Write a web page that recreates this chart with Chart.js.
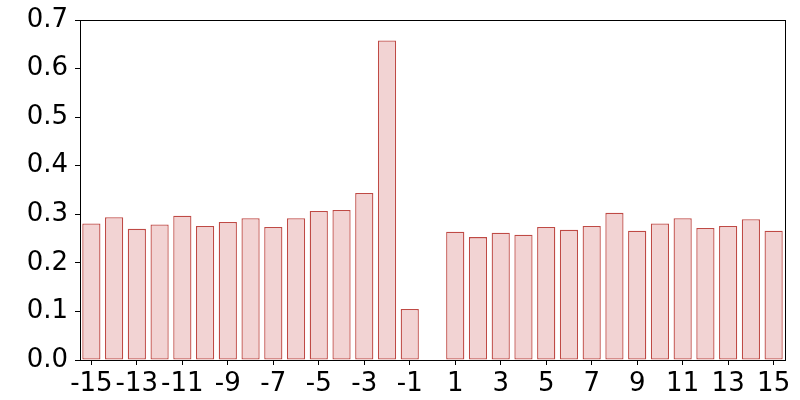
<!DOCTYPE html>
<html>
<head>
<meta charset="utf-8">
<script src="https://cdn.jsdelivr.net/npm/chart.js@4/dist/chart.umd.min.js"></script>
<style>
  html, body { margin: 0; padding: 0; background: #fff; }
  #wrap { width: 800px; height: 400px; }
</style>
</head>
<body>
<div id="wrap"><canvas id="myChart"></canvas></div>
<script>
var lags = ['-15','-14','-13','-12','-11','-10','-9','-8','-7','-6','-5','-4','-3','-2','-1','0',
            '1','2','3','4','5','6','7','8','9','10','11','12','13','14','15'];
var values = [0.281, 0.294, 0.270, 0.279, 0.297, 0.276, 0.284, 0.292, 0.274, 0.292, 0.307, 0.309, 0.344, 0.658, 0.105, 0,
              0.264, 0.253, 0.262, 0.258, 0.274, 0.268, 0.276, 0.303, 0.266, 0.281, 0.292, 0.272, 0.276, 0.290, 0.266];
var yTicks = ['0.0','0.1','0.2','0.3','0.4','0.5','0.6','0.7'];

var font = { family: 'DejaVu Sans', size: 26, lineHeight: 1 };

// top and right spines like matplotlib
var frame = {
    id: 'frame',
    afterDraw: function(chart) {
        var a = chart.chartArea, c = chart.ctx;
        c.save();
        c.strokeStyle = '#000';
        c.lineWidth = 1;
        c.strokeRect(Math.round(a.left) + 0.5, Math.round(a.top) + 0.5,
                     Math.round(a.right - a.left), Math.round(a.bottom - a.top));
        c.restore();
    }
};

var ctx = document.getElementById('myChart').getContext('2d');
var myChart = new Chart(ctx, {
    type: 'bar',
    data: {
        labels: lags,
        datasets: [{
            data: values,
            backgroundColor: '#f2d3d3',
            borderColor: '#bf4a45',
            borderWidth: 1.3,
            borderSkipped: false,
            categoryPercentage: 1,
            barPercentage: 0.8
        }]
    },
    plugins: [frame],
    options: {
        responsive: true,
        maintainAspectRatio: false,
        animation: false,
        layout: { padding: { top: 15, right: 15, left: 0, bottom: 0 } },
        plugins: { legend: { display: false }, tooltip: { enabled: false } },
        scales: {
            x: {
                offset: true,
                grid: {
                    offset: false,
                    drawOnChartArea: false,
                    drawTicks: true,
                    tickLength: 5,
                    tickColor: function(c) { return c.index % 2 === 0 ? '#000' : 'rgba(0,0,0,0)'; }
                },
                border: { color: '#000', width: 1 },
                ticks: {
                    autoSkip: false,
                    maxRotation: 0,
                    padding: 6,
                    color: '#000',
                    font: font,
                    callback: function(v, i) { return i % 2 === 0 ? lags[i] : ''; }
                },
                afterFit: function(s) { s.height = 40; }
            },
            y: {
                min: 0,
                max: 0.7,
                grid: {
                    drawOnChartArea: false,
                    drawTicks: true,
                    tickLength: 5,
                    tickColor: '#000'
                },
                border: { color: '#000', width: 1 },
                ticks: {
                    stepSize: 0.1,
                    padding: 7,
                    color: '#000',
                    font: font,
                    callback: function(v, i) { return yTicks[i]; }
                },
                afterFit: function(s) { s.width = 80; }
            }
        }
    }
});
</script>
</body>
</html>
